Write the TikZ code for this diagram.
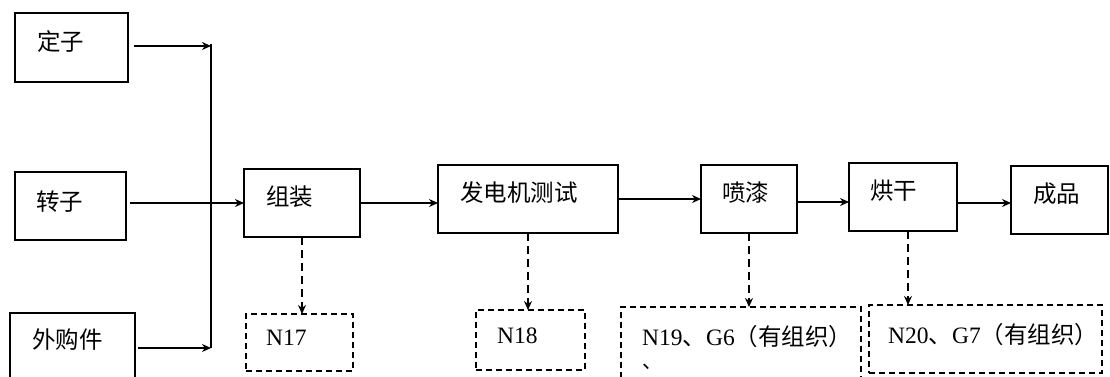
\documentclass[tikz,border=0pt]{standalone}
\usepackage{fontspec}
\setmainfont{Liberation Serif}
\newfontfamily\cjk{Noto Sans CJK SC}
\usetikzlibrary{arrows.meta,calc}
\begin{document}
\begin{tikzpicture}[x=1pt,y=-1pt,
  box/.style={draw,line width=2pt,anchor=north west,outer sep=0pt,inner sep=0pt},
  dbox/.style={box,dash pattern=on 6pt off 4pt},
  lbl/.style={anchor=west,inner sep=0pt,font=\fontsize{23.5}{27}\selectfont},
  arr/.style={line width=2pt,-{Stealth[length=9pt,width=8pt]}},
  darr/.style={arr,dash pattern=on 8pt off 5pt}]
\path[use as bounding box] (0,0) rectangle (1110,376);
\clip (0,0) rectangle (1110,376);
% process boxes
\node[box,minimum width=113pt,minimum height=69pt] (dz) at (15,13) {};
\node[box,minimum width=111pt,minimum height=68pt] (zi) at (15,172) {};
\node[box,minimum width=125pt,minimum height=70pt] (wg) at (10,313) {};
\node[box,minimum width=116pt,minimum height=68pt] (zu) at (244,169) {};
\node[box,minimum width=180pt,minimum height=68pt] (fd) at (438,165) {};
\node[box,minimum width=96pt,minimum height=68pt] (pq) at (701,165) {};
\node[box,minimum width=108pt,minimum height=68pt] (hg) at (849,163) {};
\node[box,minimum width=97pt,minimum height=68pt] (cp) at (1011,166) {};
% emission boxes
\node[dbox,minimum width=107pt,minimum height=57pt] (n17) at (246,314) {};
\node[dbox,minimum width=109pt,minimum height=60pt] (n18) at (476,310) {};
\node[dbox,minimum width=240pt,minimum height=75pt] (n19) at (621,307) {};
\node[dbox,minimum width=233pt,minimum height=68pt] (n20) at (869,305) {};
% labels
\node[lbl] (tdz) at ($(dz.north west)+(22,29)$) {\cjk 定子};
\node[lbl] (tzi) at ($(zi.north west)+(21,30)$) {\cjk 转子};
\node[lbl] (twg) at ($(wg.north west)+(22,27)$) {\cjk 外购件};
\node[lbl] (tzu) at ($(zu.north west)+(22,28)$) {\cjk 组装};
\node[lbl] (tfd) at ($(fd.north west)+(22,28)$) {\cjk 发电机测试};
\node[lbl] (tpq) at ($(pq.north west)+(21,28)$) {\cjk 喷漆};
\node[lbl] (thg) at ($(hg.north west)+(21,28)$) {\cjk 烘干};
\node[lbl] (tcp) at ($(cp.north west)+(22,28)$) {\cjk 成品};
\node[lbl] (t17) at ($(n17.north west)+(20,24)$) {N17};
\node[lbl] (t18) at ($(n18.north west)+(21,26)$) {N18};
\node[lbl] (t19) at ($(n19.north west)+(21,30)$) {N19{\cjk 、}G6{\cjk （有组织）}};
\node[lbl,font=\fontsize{20}{24}\selectfont] (t19b) at ($(n19.north west)+(21,60)$) {{\cjk 、}};
\node[lbl] (t20) at ($(n20.north west)+(19,30)$) {N20{\cjk 、}G7{\cjk （有组织）}};
% junction
\coordinate (j1) at (211,46);
\coordinate (j3) at (211,348);
\draw[line width=2pt] ($(j1)+(0,-2)$) -- (j3);
\draw[arr,shorten <=6pt] (dz.east |- j1) -- (j1);
\draw[arr,shorten <=4pt] (zi.east |- zu.west) -- (zu.west);
\draw[arr,shorten <=3pt] (wg.east |- j3) -- (j3);
% main flow
\coordinate (a3) at ($(pq.east)+(0,3)$);
\coordinate (a4) at ($(hg.east)+(0,6)$);
\draw[arr] (zu.east) -- (fd.west |- zu.east);
\draw[arr] (fd.east) -- (pq.west |- fd.east);
\draw[arr] (a3) -- (hg.west |- a3);
\draw[arr] (a4) -- (cp.west |- a4);
% emissions
\draw[darr] (zu.south) -- (zu.south |- n17.north);
\draw[darr] (fd.south) -- (fd.south |- n18.north);
\draw[darr] (pq.south) -- (pq.south |- n19.north);
\coordinate (h1) at ($(hg.south)+(5,0)$);
\draw[darr] (h1) -- (h1 |- n20.north);
\end{tikzpicture}
\end{document}
